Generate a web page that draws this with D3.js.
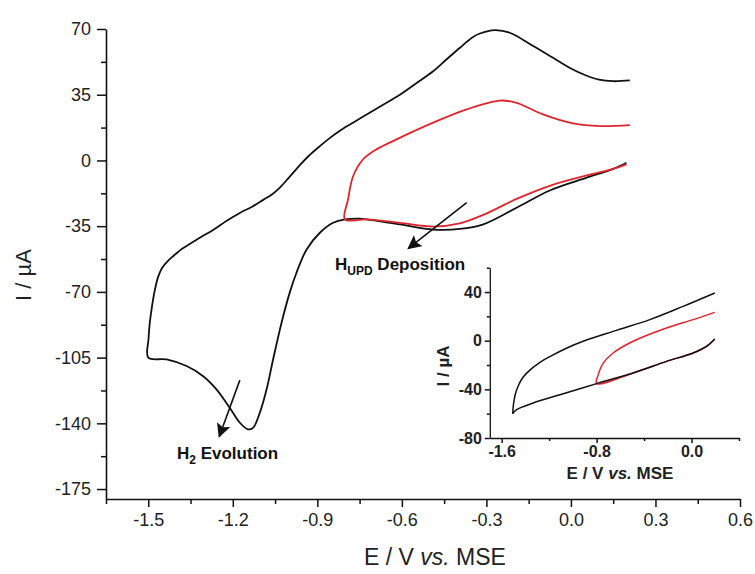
<!DOCTYPE html>
<html>
<head>
<meta charset="utf-8">
<script src="https://cdn.jsdelivr.net/npm/d3@7"></script>
<style>
  html, body { margin: 0; padding: 0; background: #fff; }
  svg { display: block; font-family: "Liberation Sans", Arial, sans-serif; }
</style>
</head>
<body>
<svg id="chart" width="755" height="574"></svg>
<script>
// ---- Main voltammogram (black: wide window, red: narrow window) ----
const blackE = [0.197, 0.15, 0.056, -0.075, -0.193, -0.311, -0.394, -0.489, -0.607, -0.725, -0.749, -0.802, -0.844,
  -0.891, -0.938, -0.974, -0.998, -1.027, -1.057, -1.08, -1.104, -1.128, -1.146, -1.175, -1.211, -1.258, -1.305,
  -1.364, -1.435, -1.5,
  -1.499, -1.495, -1.488, -1.478, -1.465, -1.45, -1.43, -1.412, -1.38, -1.353, -1.31, -1.27, -1.22, -1.175, -1.13,
  -1.092, -1.06, -1.033, -1.0, -0.962, -0.93, -0.891, -0.855, -0.82, -0.78, -0.749, -0.68, -0.607, -0.55, -0.489,
  -0.44, -0.394, -0.35, -0.323, -0.27, -0.217, -0.134, -0.051, 0.0, 0.05, 0.1, 0.15, 0.209];
const blackI = [-1.2, -4.5, -9.2, -16, -25.2, -34, -36.5, -36.8, -34.1, -31.4, -31, -31.4, -33.2,
  -38.5, -47.4, -59.8, -70.4, -86.4, -106, -121.9, -134.3, -142.4, -143.2, -139.7, -131.7, -121.9, -114.9,
  -109.5, -106, -105,
  -95, -87, -79, -70, -62, -57, -53.5, -51, -47, -44.5, -40.5, -37, -32, -28, -24.5,
  -21, -18, -14.5, -9, -2.5, 2.5, 7.6, 12, 15.8, 19.5, 22.3, 28.5, 35, 41, 47.5,
  54, 60, 65.5, 67.6, 69.4, 68, 60.9, 53.5, 49, 45.5, 43, 42.2, 42.6];

const redE = [0.197, 0.15, 0.056, -0.075, -0.193, -0.311, -0.394, -0.489, -0.607, -0.725, -0.802,
  -0.791, -0.773, -0.738, -0.69, -0.619, -0.489, -0.37, -0.252, -0.193, -0.099, 0.008, 0.103, 0.209];
const redI = [-2.1, -4.5, -8, -13.5, -20.5, -29, -33.5, -35.2, -33.2, -31.4, -31.4,
  -20.8, -8.4, 0.5, 5.9, 11.2, 20.1, 27.2, 31.9, 30.7, 24.5, 19.7, 18.3, 18.8];

const xTicks = [-1.5, -1.2, -0.9, -0.6, -0.3, 0.0, 0.3, 0.6];
const xMinor = [-1.65, -1.35, -1.05, -0.75, -0.45, -0.15, 0.15, 0.45];
const yTicks = [70, 35, 0, -35, -70, -105, -140, -175];
const yMinor = [52.5, 17.5, -17.5, -52.5, -87.5, -122.5, -157.5];

// ---- Inset voltammogram ----
const insetBlackE = [-1.507, -1.5, -1.485, -1.46, -1.42, -1.36, -1.28, -1.19, -1.05, -0.913, -0.632, -0.351, -0.071, 0.196];
const insetBlackI = [-60, -52, -44, -37, -30, -24, -18, -12.9, -6, -0.5, 8.5, 17.3, 28.2, 39.2];
const insetLowerE = [-1.507, -1.474, -1.334, -1.109, -0.8, -0.492, -0.211, 0.014, 0.126, 0.196];
const insetLowerI = [-60, -56.7, -51.2, -44.4, -35.3, -26.5, -17, -10.1, -4.7, 1.4];
const insetRedE = [0.196, 0.126, 0.014, -0.211, -0.492, -0.8, -0.786, -0.744, -0.66, -0.492, -0.211, 0.014, 0.196];
const insetRedI = [1.4, -4.7, -10.1, -17, -26.5, -35.3, -27.9, -18.4, -10.1, -0.5, 10.4, 17.3, 23.3];

const insetXTicks = [-1.6, -0.8, 0.0];
const insetXMinor = [-1.2, -0.4, 0.4];
const insetYTicks = [40, 0, -40, -80];
const insetYMinor = [60, 20, -20, -60];

const svg = d3.select("#chart");

const x = d3.scaleLinear().domain([-1.65, 0.6]).range([106, 740]);
const y = d3.scaleLinear().domain([-180.3, 70]).range([499, 29]);

const fmt1 = d3.format(".1f");
const fmtTick = v => fmt1(v).replace("−", "-");

function pairs(E, I) { return E.map((e, i) => [e, I[i]]); }

// axes
function styleAxis(g, fontSize, bold) {
  g.selectAll("path.domain").attr("stroke", "#111").attr("stroke-width", 1.6);
  g.selectAll(".tick line").attr("stroke", "#111").attr("stroke-width", 1.5);
  g.selectAll(".tick text").attr("fill", "#222")
    .style("font-size", fontSize + "px").style("font-weight", bold ? "bold" : "normal")
    .style("font-family", '"Liberation Sans", Arial, sans-serif');
}

const gx = svg.append("g").attr("transform", `translate(0,${y.range()[0]})`)
  .call(d3.axisBottom(x).tickValues(xTicks).tickFormat(fmtTick).tickSize(8).tickSizeOuter(0).tickPadding(6));
styleAxis(gx, 18, false);
const gxm = svg.append("g").attr("transform", `translate(0,${y.range()[0]})`)
  .call(d3.axisBottom(x).tickValues(xMinor).tickFormat("").tickSize(5).tickSizeOuter(0));
styleAxis(gxm, 18, false);
gxm.select("path.domain").remove();

const gy = svg.append("g").attr("transform", `translate(${x.range()[0]},0)`)
  .call(d3.axisLeft(y).tickValues(yTicks).tickFormat(d => String(d)).tickSize(9).tickSizeOuter(0).tickPadding(6));
styleAxis(gy, 18, false);
const gym = svg.append("g").attr("transform", `translate(${x.range()[0]},0)`)
  .call(d3.axisLeft(y).tickValues(yMinor).tickFormat("").tickSize(5).tickSizeOuter(0));
styleAxis(gym, 18, false);
gym.select("path.domain").remove();

// axis titles
const xTitle = svg.append("text").attr("x", 435).attr("y", 565).attr("text-anchor", "middle")
  .style("font-size", "23px").attr("fill", "#222");
xTitle.append("tspan").text("E / V ");
xTitle.append("tspan").style("font-style", "italic").text("vs.");
xTitle.append("tspan").text(" MSE");

svg.append("text").attr("transform", "translate(31,275) rotate(-90)").attr("text-anchor", "middle")
  .style("font-size", "22px").attr("fill", "#222").text("I / µA");

// curves
const line = d3.line().x(d => x(d[0])).y(d => y(d[1])).curve(d3.curveCatmullRom.alpha(0.5));
svg.append("path").datum(pairs(blackE, blackI)).attr("d", line)
  .attr("fill", "none").attr("stroke", "#111").attr("stroke-width", 1.8).attr("stroke-linejoin", "round");
svg.append("path").datum(pairs(redE, redI)).attr("d", line)
  .attr("fill", "none").attr("stroke", "#e0242c").attr("stroke-width", 1.8).attr("stroke-linejoin", "round");

// annotations
const defs = svg.append("defs");
defs.append("marker").attr("id", "head").attr("viewBox", "0 0 10 10").attr("refX", 9).attr("refY", 5)
  .attr("markerWidth", 14).attr("markerHeight", 14).attr("markerUnits", "userSpaceOnUse").attr("orient", "auto")
  .append("path").attr("d", "M0,0 L10,5 L0,10 L2,5 Z").attr("fill", "#111");

const arrows = [
  { from: [-1.175, -117], to: [-1.248, -147] },
  { from: [-0.370, -22.5], to: [-0.577, -46.8] }
];
svg.selectAll("line.arrow").data(arrows).join("line").attr("class", "arrow")
  .attr("x1", d => x(d.from[0])).attr("y1", d => y(d.from[1]))
  .attr("x2", d => x(d.to[0])).attr("y2", d => y(d.to[1]))
  .attr("stroke", "#111").attr("stroke-width", 1.6).attr("marker-end", "url(#head)");

const t1 = svg.append("text").attr("x", 177).attr("y", 459).style("font-size", "17px")
  .style("font-weight", "bold").attr("fill", "#111");
t1.append("tspan").text("H");
t1.append("tspan").attr("dy", 5).style("font-size", "12px").text("2");
t1.append("tspan").attr("dy", -5).text(" Evolution");

const t2 = svg.append("text").attr("x", 335).attr("y", 270).style("font-size", "17px")
  .style("font-weight", "bold").attr("fill", "#111");
t2.append("tspan").text("H");
t2.append("tspan").attr("dy", 5).style("font-size", "12px").text("UPD");
t2.append("tspan").attr("dy", -5).text(" Deposition");

// ---- inset ----
const xi = d3.scaleLinear().domain([-1.7, 0.4]).range([489.8, 739]);
const yi = d3.scaleLinear().domain([-80, 60]).range([438, 267.7]);

const gix = svg.append("g").attr("transform", `translate(0,${yi.range()[0]})`)
  .call(d3.axisBottom(xi).tickValues(insetXTicks).tickFormat(fmtTick).tickSize(5).tickSizeOuter(0).tickPadding(3));
styleAxis(gix, 16, true);
const gixm = svg.append("g").attr("transform", `translate(0,${yi.range()[0]})`)
  .call(d3.axisBottom(xi).tickValues(insetXMinor).tickFormat("").tickSize(3).tickSizeOuter(0));
styleAxis(gixm, 16, true);
gixm.select("path.domain").remove();

const giy = svg.append("g").attr("transform", `translate(${xi.range()[0]},0)`)
  .call(d3.axisLeft(yi).tickValues(insetYTicks).tickFormat(d => String(d)).tickSize(5).tickSizeOuter(0).tickPadding(3));
styleAxis(giy, 16, true);
const giym = svg.append("g").attr("transform", `translate(${xi.range()[0]},0)`)
  .call(d3.axisLeft(yi).tickValues(insetYMinor).tickFormat("").tickSize(3).tickSizeOuter(0));
styleAxis(giym, 16, true);
giym.select("path.domain").remove();
[gix, giy].forEach(g => g.selectAll("path.domain").attr("stroke-width", 1.3));

const ixTitle = svg.append("text").attr("x", 620).attr("y", 479).attr("text-anchor", "middle")
  .style("font-size", "17px").style("font-weight", "bold").attr("fill", "#222");
ixTitle.append("tspan").text("E / V ");
ixTitle.append("tspan").style("font-style", "italic").text("vs.");
ixTitle.append("tspan").text(" MSE");

svg.append("text").attr("transform", "translate(449,366) rotate(-90)").attr("text-anchor", "middle")
  .style("font-size", "17px").style("font-weight", "bold").attr("fill", "#222").text("I / µA");

const iline = d3.line().x(d => xi(d[0])).y(d => yi(d[1])).curve(d3.curveCatmullRom.alpha(0.5));
svg.append("path").datum(pairs(insetRedE, insetRedI)).attr("d", iline)
  .attr("fill", "none").attr("stroke", "#e0242c").attr("stroke-width", 1.5);
svg.append("path").datum(pairs(insetBlackE, insetBlackI)).attr("d", iline)
  .attr("fill", "none").attr("stroke", "#111").attr("stroke-width", 1.5);
svg.append("path").datum(pairs(insetLowerE, insetLowerI)).attr("d", iline)
  .attr("fill", "none").attr("stroke", "#111").attr("stroke-width", 1.5);
</script>
</body>
</html>
